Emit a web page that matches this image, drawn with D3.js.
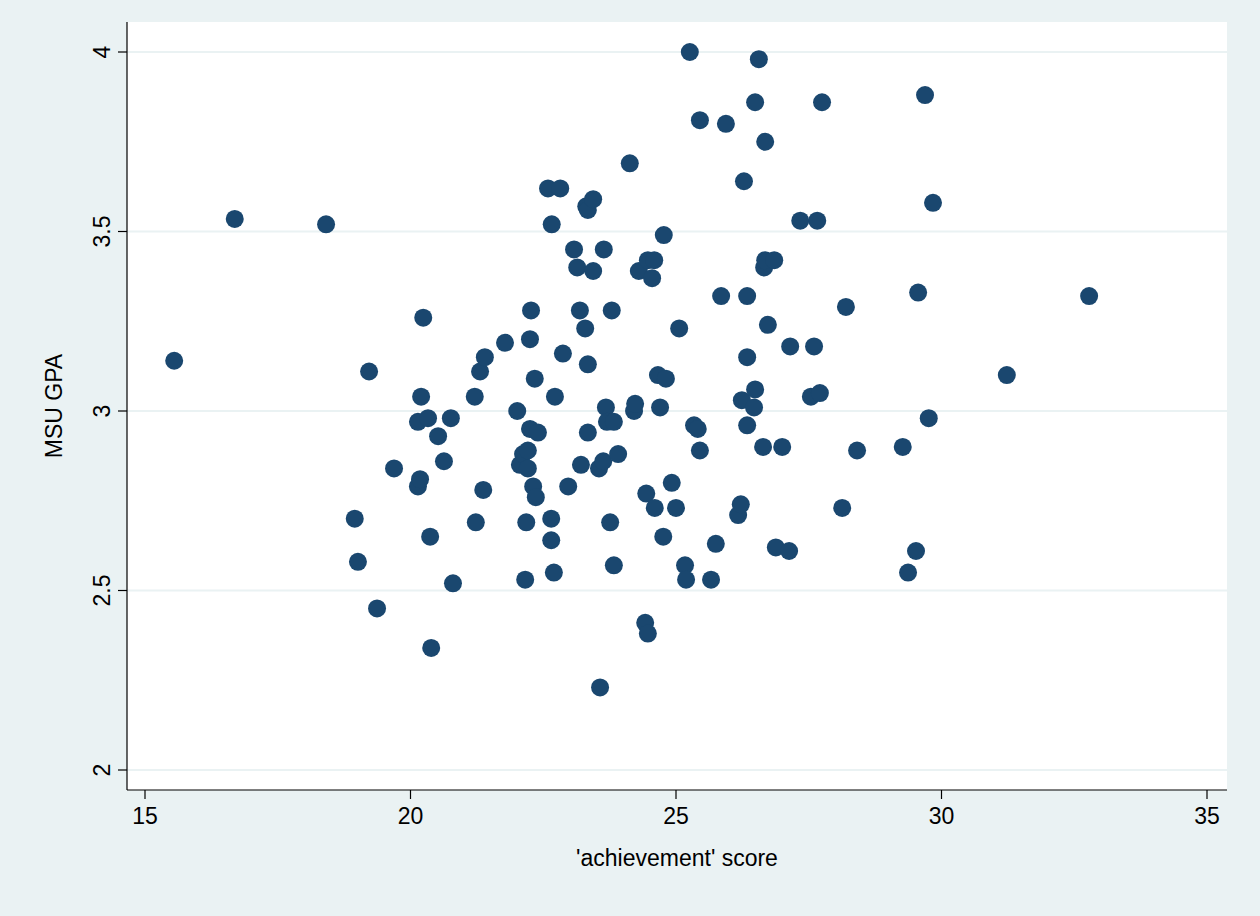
<!DOCTYPE html>
<html><head><meta charset="utf-8">
<script src="https://cdn.jsdelivr.net/npm/d3@7"></script>
<style>body{margin:0;background:#eaf2f3}svg{display:block}</style>
</head><body><div id="chart"></div>
<script>
const achievement = [15.55,16.69,18.41,19.22,18.95,19.01,19.37,19.69,20.14,20.18,20.14,20.20,20.24,20.33,20.37,20.39,20.52,20.63,20.76,20.80,
  21.21,21.23,21.31,21.37,21.40,21.78,22.01,22.06,22.12,22.16,22.18,22.21,22.21,22.25,22.25,22.27,22.31,22.34,22.36,22.40,
  22.59,22.65,22.65,22.66,22.70,22.72,22.82,22.87,22.97,23.08,23.14,23.19,23.21,23.29,23.31,23.34,23.34,23.34,23.44,23.44,
  23.55,23.57,23.63,23.64,23.68,23.70,23.76,23.79,23.83,23.83,23.91,24.13,24.21,24.23,24.30,24.42,24.44,24.47,24.47,24.55,
  24.59,24.60,24.66,24.70,24.76,24.77,24.81,24.92,25.00,25.06,25.17,25.19,25.26,25.34,25.41,25.45,25.45,25.66,25.75,25.85,
  25.94,26.17,26.22,26.24,26.28,26.34,26.34,26.34,26.47,26.49,26.49,26.56,26.64,26.66,26.68,26.68,26.73,26.85,26.88,27.00,
  27.13,27.15,27.34,27.54,27.60,27.66,27.71,27.75,28.13,28.20,28.41,29.27,29.37,29.52,29.56,29.69,29.76,29.84,31.23,32.78];
const gpa = [3.14,3.535,3.52,3.11,2.70,2.58,2.45,2.84,2.79,2.81,2.97,3.04,3.26,2.98,2.65,2.34,2.93,2.86,2.98,2.52,
  3.04,2.69,3.11,2.78,3.15,3.19,3.00,2.85,2.88,2.53,2.69,2.89,2.84,2.95,3.20,3.28,2.79,3.09,2.76,2.94,
  3.62,2.70,2.64,3.52,2.55,3.04,3.62,3.16,2.79,3.45,3.40,3.28,2.85,3.23,3.57,2.94,3.13,3.56,3.59,3.39,
  2.84,2.23,2.86,3.45,3.01,2.97,2.69,3.28,2.57,2.97,2.88,3.69,3.00,3.02,3.39,2.41,2.77,2.38,3.42,3.37,
  3.42,2.73,3.10,3.01,2.65,3.49,3.09,2.80,2.73,3.23,2.57,2.53,4.00,2.96,2.95,2.89,3.81,2.53,2.63,3.32,
  3.80,2.71,2.74,3.03,3.64,3.32,3.15,2.96,3.01,3.86,3.06,3.98,2.90,3.40,3.75,3.42,3.24,3.42,2.62,2.90,
  2.61,3.18,3.53,3.04,3.18,3.53,3.05,3.86,2.73,3.29,2.89,2.90,2.55,2.61,3.33,3.88,2.98,3.58,3.10,3.32];
const xTicks = [15,20,25,30,35];
const yTicks = [2,2.5,3,3.5,4];

const W = 1260, H = 916;
const pLeft = 127, pRight = 1227, pTop = 22, pBottom = 790;
const svg = d3.select('#chart').append('svg').attr('width', W).attr('height', H)
  .style('font-family', '"Liberation Sans", Arial, sans-serif');
svg.append('rect').attr('width', W).attr('height', H).attr('fill', '#eaf2f3');
svg.append('rect').attr('x', pLeft).attr('y', pTop).attr('width', pRight - pLeft).attr('height', pBottom - pTop).attr('fill', '#fff');

const x = d3.scaleLinear().domain([15, 35]).range([145, 1207]);
const y = d3.scaleLinear().domain([2, 4]).range([770, 52]);

// grid
svg.selectAll('line.grid').data(yTicks).enter().append('line')
  .attr('x1', pLeft).attr('x2', pRight).attr('y1', d => y(d)).attr('y2', d => y(d))
  .attr('stroke', '#eaf2f3').attr('stroke-width', 2);

// axes
const ax = svg.append('g').attr('stroke', '#000').attr('stroke-width', 1.2);
ax.append('line').attr('x1', pLeft).attr('x2', pRight).attr('y1', pBottom).attr('y2', pBottom);
ax.append('line').attr('x1', pLeft).attr('x2', pLeft).attr('y1', pTop).attr('y2', pBottom);
xTicks.forEach(t => {
  ax.append('line').attr('x1', x(t)).attr('x2', x(t)).attr('y1', pBottom).attr('y2', pBottom + 9);
  svg.append('text').attr('x', x(t)).attr('y', pBottom + 34).attr('text-anchor', 'middle')
    .attr('font-size', 23).text(t);
});
yTicks.forEach(t => {
  ax.append('line').attr('x1', pLeft - 9).attr('x2', pLeft).attr('y1', y(t)).attr('y2', y(t));
  svg.append('text').attr('transform', `translate(${pLeft - 17},${y(t)}) rotate(-90)`)
    .attr('text-anchor', 'middle').attr('font-size', 23).text(t);
});

svg.append('text').attr('x', (pLeft + pRight) / 2).attr('y', 866).attr('text-anchor', 'middle')
  .attr('font-size', 23).text("'achievement' score");
svg.append('text').attr('transform', `translate(62,${(pTop + pBottom) / 2}) rotate(-90)`)
  .attr('text-anchor', 'middle').attr('font-size', 23).text('MSU GPA');

svg.selectAll('circle').data(achievement).enter().append('circle')
  .attr('cx', d => x(d)).attr('cy', (d, i) => y(gpa[i])).attr('r', 9)
  .attr('fill', '#1a476f');
</script></body></html>
